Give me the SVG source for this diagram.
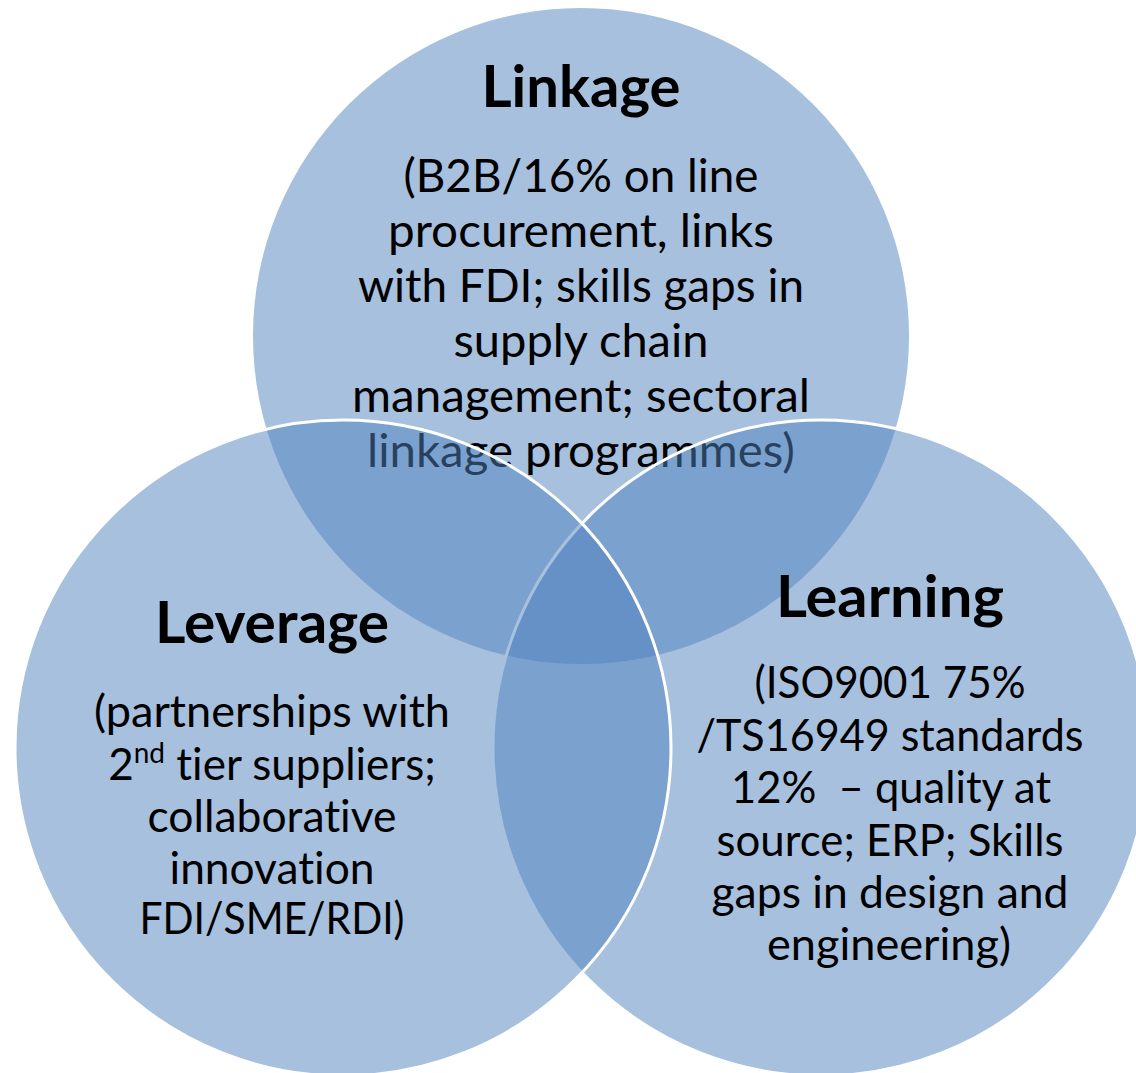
<svg xmlns="http://www.w3.org/2000/svg" width="1136" height="1073" viewBox="0 0 1136 1073">
  <style>
    .ring { fill: #4F81BD; fill-opacity: 0.5; }
    .edge { stroke: #FFFFFF; stroke-width: 3; }
    text { font-family: Lato, "Liberation Sans", sans-serif; fill: #000000; text-anchor: middle; font-variant-ligatures: none; }
    .title { font-weight: bold; font-size: 57px; }
    .body-top { font-size: 46px; }
    .body { font-size: 44px; }
  </style>
  <rect width="1136" height="1073" fill="#FFFFFF"/>

  <!-- Linkage circle (drawn first, so its text sits beneath the lower circles) -->
  <g id="node-linkage">
    <circle class="ring" cx="581" cy="336" r="328"/>
    <text class="title" x="581" y="107" textLength="199" lengthAdjust="spacingAndGlyphs">Linkage</text>
    <text class="body-top" x="581" y="192" textLength="355" lengthAdjust="spacingAndGlyphs">(B2B/16% on line</text>
    <text class="body-top" x="581" y="247" textLength="386" lengthAdjust="spacingAndGlyphs">procurement, links</text>
    <text class="body-top" x="581" y="302" textLength="446" lengthAdjust="spacingAndGlyphs">with FDI; skills gaps in</text>
    <text class="body-top" x="581" y="357" textLength="255" lengthAdjust="spacingAndGlyphs">supply chain</text>
    <text class="body-top" x="581" y="412" textLength="458" lengthAdjust="spacingAndGlyphs">management; sectoral</text>
    <text class="body-top" x="581" y="467" textLength="428" lengthAdjust="spacingAndGlyphs">linkage programmes)</text>
  </g>

  <!-- Learning circle -->
  <g id="node-learning">
    <circle class="ring edge" cx="821" cy="748" r="328"/>
    <text class="title" x="890" y="617" textLength="228" lengthAdjust="spacingAndGlyphs">Learning</text>
    <text class="body" x="890" y="698" textLength="271" lengthAdjust="spacingAndGlyphs">(ISO9001 75%</text>
    <text class="body" x="890" y="751" textLength="387" lengthAdjust="spacingAndGlyphs">/TS16949 standards</text>
    <text class="body" x="891" y="803" textLength="320" lengthAdjust="spacingAndGlyphs">12%&#160; – quality at</text>
    <text class="body" x="890" y="856" textLength="347" lengthAdjust="spacingAndGlyphs">source; ERP; Skills</text>
    <text class="body" x="890" y="908" textLength="357" lengthAdjust="spacingAndGlyphs">gaps in design and</text>
    <text class="body" x="889" y="960" textLength="244" lengthAdjust="spacingAndGlyphs">engineering)</text>
  </g>

  <!-- Leverage circle (topmost) -->
  <g id="node-leverage">
    <circle class="ring edge" cx="343" cy="748" r="328"/>
    <text class="title" x="272" y="643" textLength="234" lengthAdjust="spacingAndGlyphs">Leverage</text>
    <text class="body" x="272" y="727" textLength="356" lengthAdjust="spacingAndGlyphs">(partnerships with</text>
    <text class="body" x="272" y="780">2<tspan dy="-17" font-size="28">nd</tspan><tspan dy="17"> tier suppliers;</tspan></text>
    <text class="body" x="272" y="832" textLength="249" lengthAdjust="spacingAndGlyphs">collaborative</text>
    <text class="body" x="272" y="884" textLength="205" lengthAdjust="spacingAndGlyphs">innovation</text>
    <text class="body" x="272" y="934" textLength="265" lengthAdjust="spacingAndGlyphs">FDI/SME/RDI)</text>
  </g>

  <!-- no connectors in this diagram -->
  <g id="connectors"/>
</svg>
